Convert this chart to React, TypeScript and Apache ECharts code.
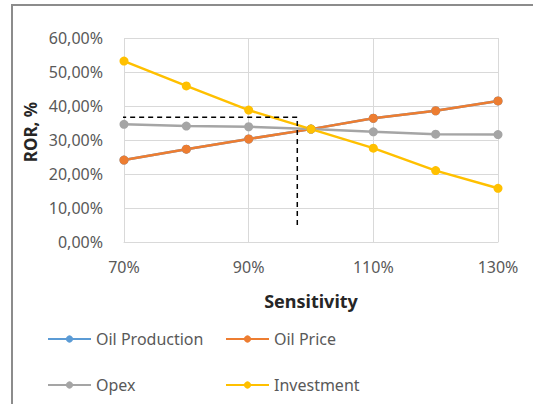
import React, { useEffect, useRef } from "react";
import * as echarts from "echarts";

const categories = ["70%", "80%", "90%", "100%", "110%", "120%", "130%"];
const oilProduction = [24.1, 27.3, 30.3, 33.2, 36.4, 38.6, 41.5];
const oilPrice = [24.1, 27.3, 30.3, 33.2, 36.4, 38.6, 41.5];
const opex = [34.6, 34.1, 33.9, 33.2, 32.4, 31.7, 31.6];
const investment = [53.2, 45.9, 38.8, 33.2, 27.6, 21.0, 15.8];
const guideLine = [
  [68.1, 36.7],
  [97.8, 36.7],
  [97.8, 4.1],
];

const FONT = "Noto Sans";

export default function App() {
  const ref = useRef<HTMLDivElement>(null);
  useEffect(() => {
    const chart = echarts.init(ref.current!, null, { renderer: "svg" });
    const lineSeries = (name: string, data: number[], color: string) => ({
      name,
      type: "line",
      data,
      xAxisIndex: 0,
      yAxisIndex: 0,
      symbol: "circle",
      symbolSize: 9,
      itemStyle: { color },
      lineStyle: { color, width: 2.5 },
    });
    const legendCommon = {
      orient: "vertical",
      top: 326,
      itemGap: 30,
      itemWidth: 43,
      itemHeight: 9,
      textStyle: { color: "#595959", fontFamily: FONT, fontSize: 16 },
    };
    chart.setOption({
      animation: false,
      backgroundColor: "#ffffff",
      graphic: [
        {
          type: "rect",
          shape: { x: 12, y: 5, width: 530, height: 420 },
          style: { fill: "none", stroke: "#8c8c8c", lineWidth: 2 },
          silent: true,
        },
        {
          type: "text",
          x: 30,
          y: 132,
          rotation: Math.PI / 2,
          style: {
            text: "ROR, %",
            fill: "#262626",
            font: `bold 17px "${FONT}"`,
            align: "center",
            verticalAlign: "middle",
          },
          silent: true,
        },
      ],
      grid: { left: 124, right: 35, top: 38, bottom: 162 },
      xAxis: [
        {
          type: "category",
          data: categories,
          boundaryGap: false,
          axisLine: { show: true, lineStyle: { color: "#d9d9d9" } },
          axisTick: { show: false },
          axisLabel: {
            interval: 1,
            color: "#595959",
            fontFamily: FONT,
            fontSize: 16,
            margin: 17,
          },
          splitLine: { show: true, interval: 1, lineStyle: { color: "#d9d9d9" } },
          name: "Sensitivity",
          nameLocation: "middle",
          nameGap: 50,
          nameTextStyle: { color: "#262626", fontFamily: FONT, fontSize: 18, fontWeight: "bold" },
        },
        {
          type: "value",
          min: 70,
          max: 130,
          show: false,
        },
      ],
      yAxis: {
        type: "value",
        min: 0,
        max: 60,
        interval: 10,
        axisLine: { show: false },
        axisTick: { show: false },
        axisLabel: {
          color: "#595959",
          fontFamily: FONT,
          fontSize: 16,
          margin: 21,
          formatter: (v: number) => v.toFixed(2).replace(".", ",") + "%",
        },
        splitLine: { lineStyle: { color: "#d9d9d9" } },
      },
      legend: [
        { ...legendCommon, data: ["Oil Production", "Opex"], left: 42 },
        { ...legendCommon, data: ["Oil Price", "Investment"], left: 220 },
      ],
      series: [
        lineSeries("Oil Production", oilProduction, "#5b9bd5"),
        lineSeries("Oil Price", oilPrice, "#ed7d31"),
        lineSeries("Opex", opex, "#a5a5a5"),
        lineSeries("Investment", investment, "#ffc000"),
        {
          name: "guide",
          type: "line",
          xAxisIndex: 1,
          yAxisIndex: 0,
          data: guideLine,
          symbol: "none",
          clip: false,
          silent: true,
          lineStyle: { color: "#000000", width: 1.5, type: [5, 4] },
          z: 5,
        },
      ],
    });
    return () => chart.dispose();
  }, []);
  return (
    <div
      ref={ref}
      style={{ position: "fixed", left: 0, top: 0, width: 533, height: 404, background: "#fff" }}
    />
  );
}
